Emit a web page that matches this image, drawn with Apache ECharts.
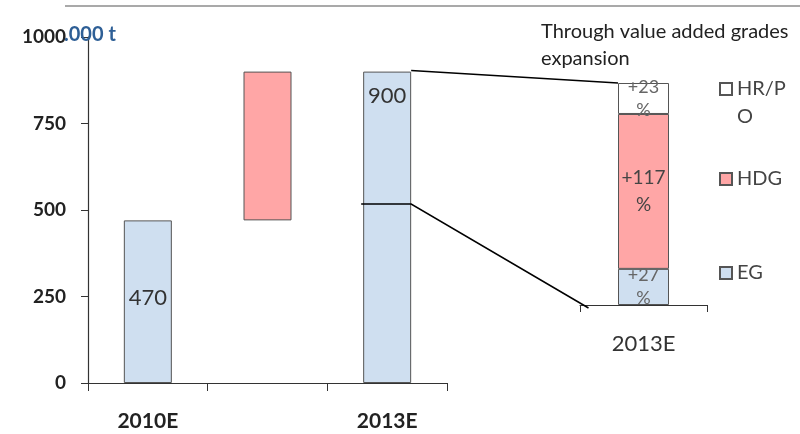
<!DOCTYPE html>
<html>
<head>
<meta charset="utf-8">
<script src="https://cdn.jsdelivr.net/npm/echarts@6/dist/echarts.min.js"></script>
<style>
  html, body { margin: 0; padding: 0; background: #fff; }
  #chart { width: 800px; height: 434px; }
</style>
</head>
<body>
<div id="chart"></div>
<script>
// Capacity, '000 t
const categories = ['2010E', '', '2013E'];
const baseVolume = [470, '-', 900];      // blue columns
const bridgeOffset = [0, 470, 0];        // invisible floor under the increase
const increase = ['-', 430, '-'];        // pink increase block
const yTicks = [0, 250, 500, 750, 1000];

// Breakdown of the increase by grade (2013E)
const detailCategory = ['2013E'];
const gradeNames = ['EG', 'HDG', 'HR/PO'];
const gradeValues = [70, 300, 60];
const gradeGrowth = ['+27\n%', '+117\n%', '+23\n%'];
const connectorLevel = 517;

const FONT = 'Lato, "Open Sans", sans-serif';
const BLUE = '#cfdff0';
const PINK = '#ffa6a6';
const EDGE = '#555555';

const chart = echarts.init(document.getElementById('chart'));

const gradeColors = { 'EG': BLUE, 'HDG': PINK, 'HR/PO': '#ffffff' };

const detailSeries = gradeNames.map((name, i) => ({
  name: name,
  type: 'bar',
  xAxisIndex: 1,
  yAxisIndex: 1,
  stack: 'grades',
  barWidth: 51,
  data: [gradeValues[i]],
  itemStyle: { color: gradeColors[name], borderColor: EDGE, borderWidth: 1 },
  label: {
    show: true,
    position: 'inside',
    formatter: () => gradeGrowth[i],
    color: name === 'HDG' ? '#444' : '#666',
    fontFamily: FONT,
    fontSize: name === 'HDG' ? 19 : 18,
    lineHeight: name === 'HDG' ? 27 : 23
  }
}));

// Legend entries sit beside the detail column; HR/PO wraps onto two lines
// below the swatch line (empty first line keeps the swatch level with "HR/P")
const legendTops = { 'HR/PO': 42, 'HDG': 160, 'EG': 254 };
const legends = gradeNames.map(name => ({
  data: [name],
  left: 714,
  top: legendTops[name],
  itemWidth: 12,
  itemHeight: 12,
  itemGap: 4,
  icon: 'rect',
  selectedMode: false,
  formatter: n => (n === 'HR/PO' ? '\nHR/P\nO' : n),
  textStyle: {
    color: '#444',
    fontFamily: FONT,
    fontSize: 20,
    lineHeight: 28
  }
}));

chart.setOption({
  animation: false,
  title: {
    text: 'Through value added grades\nexpansion',
    left: 536,
    top: 13,
    textStyle: { color: '#222', fontFamily: FONT, fontWeight: 'normal', fontSize: 20, lineHeight: 27 }
  },
  legend: legends,
  grid: [
    { left: 88, right: 353, top: 37, bottom: 51 },
    { left: 580, width: 127, top: 83, height: 222 }
  ],
  xAxis: [
    {
      type: 'category',
      gridIndex: 0,
      data: categories,
      axisLine: { lineStyle: { color: '#333', width: 1.2 } },
      axisTick: { show: true, length: 8, lineStyle: { color: '#333' } },
      axisLabel: { color: '#222', fontFamily: FONT, fontSize: 21, fontWeight: 'bold', margin: 28 }
    },
    {
      type: 'category',
      gridIndex: 1,
      data: detailCategory,
      axisLine: { lineStyle: { color: '#333', width: 1 } },
      axisTick: { show: true, length: 7, lineStyle: { color: '#333' } },
      axisLabel: { color: '#333', fontFamily: FONT, fontSize: 22, margin: 28 }
    }
  ],
  yAxis: [
    {
      type: 'value',
      gridIndex: 0,
      min: yTicks[0],
      max: yTicks[yTicks.length - 1],
      interval: 250,
      axisLine: { show: true, lineStyle: { color: '#333', width: 1.2 } },
      axisTick: { show: true, inside: false, length: 7, lineStyle: { color: '#333' } },
      splitLine: { show: false },
      axisLabel: {
        color: '#222', fontFamily: FONT, fontSize: 19, fontWeight: 'bold', margin: 22,
        formatter: v => String(v)
      }
    },
    {
      type: 'value',
      gridIndex: 1,
      min: 0,
      max: 430,
      show: false,
      splitLine: { show: false }
    }
  ],
  series: [
    {
      name: 'floor',
      type: 'bar',
      stack: 'bridge',
      barWidth: 48,
      data: bridgeOffset,
      itemStyle: { color: 'transparent' },
      silent: true
    },
    {
      name: 'volume',
      type: 'bar',
      stack: 'bridge',
      barWidth: 48,
      data: baseVolume,
      itemStyle: { color: BLUE, borderColor: EDGE, borderWidth: 1 },
      label: {
        show: true,
        position: 'inside',
        color: '#333',
        fontFamily: FONT,
        fontSize: 22,
        align: 'center',
        verticalAlign: 'middle',
        formatter: p => p.value
      },
      labelLayout: (p) => p.dataIndex === 2
        ? { x: p.rect.x + p.rect.width / 2, y: p.rect.y + 24, align: 'center', verticalAlign: 'middle' }
        : { x: p.rect.x + p.rect.width / 2, y: p.rect.y + p.rect.height / 2 - 4, align: 'center', verticalAlign: 'middle' }
    },
    {
      name: 'increase',
      type: 'bar',
      stack: 'bridge',
      barWidth: 48,
      data: increase,
      itemStyle: { color: PINK, borderColor: EDGE, borderWidth: 1 }
    }
  ].concat(detailSeries)
});

// Unit caption, top rule and connector lines between the two panels
function drawOverlays() {
  const main = { xAxisIndex: 0, yAxisIndex: 0 };
  const detail = { xAxisIndex: 1, yAxisIndex: 1 };
  const top2013 = chart.convertToPixel(main, ['2013E', baseVolume[2]]);
  const lvl = chart.convertToPixel(main, ['2013E', connectorLevel]);
  const total = gradeValues.reduce((a, b) => a + b, 0);
  const detailTop = chart.convertToPixel(detail, ['2013E', total]);
  const detailBase = chart.convertToPixel(detail, ['2013E', 0]);
  const barRight = top2013[0] + 24;
  const detailLeft = detailTop[0] - 25.5;

  chart.setOption({
    graphic: [
      {
        type: 'line',
        z: 100,
        shape: { x1: 65, y1: 6, x2: 800, y2: 6 },
        style: { stroke: '#555', lineWidth: 1.2 }
      },
      {
        type: 'text',
        z: 100,
        left: 64,
        top: 25,
        style: { text: '.000 t', fill: '#2e5f96', font: 'bold 20px ' + FONT }
      },
      {
        type: 'polyline',
        z: 100,
        shape: { points: [[barRight, top2013[1] - 1], [detailLeft, detailTop[1]]] },
        style: { stroke: '#000', lineWidth: 1.5, fill: null }
      },
      {
        type: 'polyline',
        z: 100,
        shape: { points: [[barRight - 50, lvl[1]], [barRight, lvl[1]], [detailBase[0] - 55, detailBase[1] + 3]] },
        style: { stroke: '#000', lineWidth: 1.5, fill: null }
      }
    ]
  });
}
drawOverlays();
</script>
</body>
</html>
